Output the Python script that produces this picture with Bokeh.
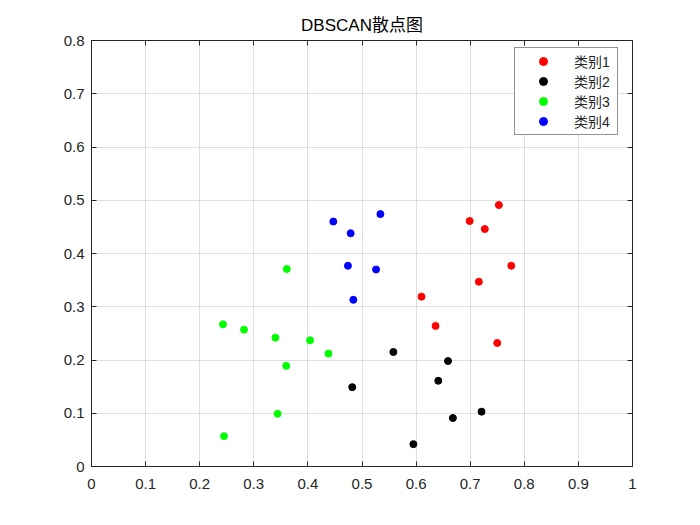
from bokeh.plotting import figure
from bokeh.models import LinearAxis, Range1d, FixedTicker, Legend, LegendItem
from bokeh.embed import file_html
from bokeh.resources import INLINE

# Data
c1_x = [0.699, 0.753, 0.727, 0.776, 0.716, 0.610, 0.636, 0.750]
c1_y = [0.461, 0.491, 0.446, 0.377, 0.347, 0.319, 0.264, 0.232]
c2_x = [0.558, 0.659, 0.641, 0.721, 0.668, 0.595, 0.482]
c2_y = [0.215, 0.198, 0.161, 0.103, 0.091, 0.042, 0.149]
c3_x = [0.361, 0.243, 0.282, 0.340, 0.404, 0.438, 0.360, 0.344, 0.245]
c3_y = [0.371, 0.267, 0.257, 0.242, 0.237, 0.212, 0.189, 0.099, 0.057]
c4_x = [0.534, 0.447, 0.479, 0.474, 0.526, 0.484]
c4_y = [0.474, 0.460, 0.438, 0.377, 0.370, 0.313]
labels = ["类别1", "类别2", "类别3", "类别4"]
colors = ["#ff0000", "#000000", "#00ff00", "#0000ff"]
x_ticks = [0, 0.1, 0.2, 0.3, 0.4, 0.5, 0.6, 0.7, 0.8, 0.9, 1]
y_ticks = [0, 0.1, 0.2, 0.3, 0.4, 0.5, 0.6, 0.7, 0.8]
title_text = "DBSCAN散点图"

FONT = "Liberation Sans, Noto Sans CJK SC"
TXT = "#262626"

p = figure(width=700, height=525, output_backend="svg", toolbar_location=None,
           x_range=Range1d(0, 1), y_range=Range1d(0, 0.8),
           min_border_left=91, min_border_right=68, min_border_top=40, min_border_bottom=59,
           x_axis_location=None, y_axis_location=None)
p.background_fill_color = "white"
p.border_fill_color = "white"
p.outline_line_color = None

def mk_axis(ticks, show_labels):
    ax = LinearAxis(ticker=FixedTicker(ticks=ticks))
    ax.axis_line_color = "#262626"
    ax.axis_line_width = 1
    ax.major_tick_line_color = "#262626"
    ax.major_tick_in = 5
    ax.major_tick_out = 0
    ax.minor_tick_line_color = None
    ax.major_label_text_font = FONT
    ax.major_label_text_font_size = "15px"
    ax.major_label_text_color = TXT
    if not show_labels:
        ax.major_label_text_font_size = "0px"
        ax.major_label_text_alpha = 0
    return ax

xb = mk_axis(x_ticks, True)
xb.major_label_standoff = 12
xb.major_label_overrides = {0: "0", 1: "1"}
yl = mk_axis(y_ticks, True)
yl.major_label_standoff = 7
yl.major_label_overrides = {0: "0"}
xt = mk_axis(x_ticks, False)
yr = mk_axis(y_ticks, False)
p.add_layout(xb, "below")
p.add_layout(yl, "left")
p.add_layout(xt, "above")
p.add_layout(yr, "right")

p.xgrid.ticker = FixedTicker(ticks=x_ticks)
p.ygrid.ticker = FixedTicker(ticks=y_ticks)
for g in (p.xgrid, p.ygrid):
    g.grid_line_color = "#262626"
    g.grid_line_alpha = 0.15
    g.grid_line_width = 1

p.title.text = title_text
p.title.text_font = FONT
p.title.text_font_size = "17px"
p.title.text_font_style = "normal"
p.title.text_color = "#000000"
p.title.align = "center"
p.title.standoff = 12

series = [(c1_x, c1_y), (c2_x, c2_y), (c3_x, c3_y), (c4_x, c4_y)]
items = []
for (xs, ys), lab, col in zip(series, labels, colors):
    r = p.scatter(xs, ys, size=7, fill_color=col, line_color=col)
    items.append(LegendItem(label=lab, renderers=[r]))

leg = Legend(items=items, location=(423, 331))
leg.border_line_color = "#262626"
leg.border_line_width = 1
leg.background_fill_color = "white"
leg.background_fill_alpha = 1
leg.padding = 3
leg.spacing = 0
leg.margin = 0
leg.glyph_width = 50
leg.glyph_height = 20
leg.label_height = 20
leg.label_width = 40
leg.label_standoff = 6
leg.label_text_font = FONT
leg.label_text_font_size = "14px"
leg.label_text_line_height = 1.0
leg.label_text_color = TXT
p.add_layout(leg, "center")

open("out.html", "w").write(file_html(p, INLINE))
